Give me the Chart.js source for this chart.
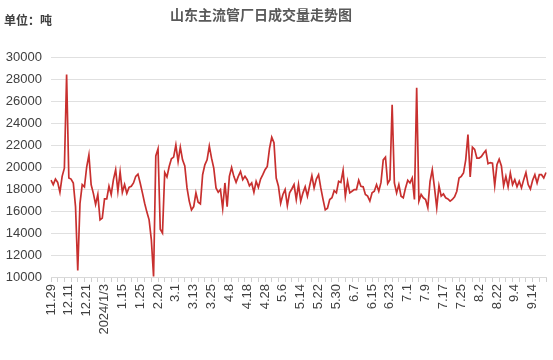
<!DOCTYPE html>
<html>
<head>
<meta charset="utf-8">
<script src="https://cdn.jsdelivr.net/npm/chart.js@4.4.1/dist/chart.umd.min.js"></script>
<style>
    html, body { margin: 0; padding: 0; background: #fff; }
    #wrap { width: 553px; height: 360px; }
</style>
</head>
<body>
<div id="wrap"><canvas id="myChart"></canvas></div>
<script>
/******* data *********/
const titleText = "山东主流管厂日成交量走势图";
const unitText = "单位：吨";
// one label every 8 trading days
const tickLabels = ["11.29", "12.11", "12.21", "2024/1/3", "1.15", "1.25", "2.20", "3.1", "3.13", "3.25",
    "4.8", "4.18", "4.28", "5.6", "5.14", "5.22", "5.30", "6.7", "6.15", "6.23",
    "7.1", "7.9", "7.17", "7.25", "8.2", "8.22", "9.4", "9.14"];
const volume = [
    18800, 18400, 18900, 18600, 17700, 19150, 19900, 28400, 19000, 18900,
    18550, 16400, 10600, 16700, 18400, 18200, 20000, 21100, 18400, 17600,
    16600, 17500, 15200, 15350, 17100, 17100, 18250, 17500, 18850, 19750,
    17800, 19550, 17700, 18400, 17600, 18150, 18250, 18550, 19150, 19350,
    18550, 17650, 16700, 15900,
    15200, 13400, 10050, 21000, 21650, 14350, 14000, 19500, 19100, 20050,
    20750, 20900, 22000, 20500, 21800, 20650, 20100, 18100, 16900, 16100,
    16400, 17650, 16800, 16650, 19300, 20200, 20650, 21900, 20800, 19900,
    18100, 17700, 17950, 16250, 18550, 16400, 19150, 19950, 19150, 18600,
    19150, 19600, 18850, 19150,
    18850, 18300, 18550, 17700, 18700, 18150, 18900, 19300, 19750, 20050,
    21700, 22700, 22200, 19000, 18250, 16700, 17500, 17950, 16500, 17650,
    18000, 18400, 17050, 18400, 16900, 17650, 18200, 17350, 18300, 19200,
    18100, 18900, 19300, 18100, 17050, 16100, 16250, 17050, 17200, 17850,
    17650, 18700, 18600, 19700, 17350,
    18700, 17650, 17800, 17950, 17950, 18800, 18250, 18200, 17500, 17350,
    16900, 17650, 17800, 18400, 17800, 18600, 20650, 20900, 18500, 18850,
    25650, 18550, 17650, 18400, 17350, 17200, 18100, 18800, 18550, 19000,
    17050, 27200, 16900, 17500, 17200, 17050, 16300, 18700, 19750, 18100,
    16300, 18300, 17350, 17550, 17200,
    17100, 16900, 17050, 17300, 17800, 19000, 19150, 19450, 20650, 22950,
    19100, 21800, 21600, 20800, 20800, 20950, 21250, 21500, 20300, 20400,
    20350, 18300, 20200, 20700, 20100, 18300, 19150, 18200, 19450, 18400,
    18850, 18200, 18700, 18100, 18850, 19500, 18400, 18000, 18800, 19300,
    18550, 19300, 19300, 19000, 19500
];
const categories = volume.map((v, i) => i);
const labelEvery = 8;

/******* title + unit text *******/
const headerPlugin = {
    id: "header",
    afterDraw: (chart) => {
        const c = chart.ctx;
        c.save();
        c.textBaseline = "middle";
        c.fillStyle = "#595959";
        c.font = "bold 14px 'Noto Sans CJK SC'";
        c.textAlign = "center";
        c.fillText(titleText, 261, 15);
        c.fillStyle = "#404040";
        c.font = "bold 12px 'Noto Sans CJK SC'";
        c.textAlign = "left";
        c.fillText(unitText, 4, 20);
        c.restore();
    }
};

/******* chart *******/
const ctx = document.getElementById("myChart").getContext("2d");
const myChart = new Chart(ctx, {
    type: "line",
    data: {
        labels: categories,
        datasets: [{
            data: volume,
            borderColor: "#C8302F",
            borderWidth: 1.7,
            pointRadius: 0,
            tension: 0,
            fill: false
        }]
    },
    options: {
        responsive: true,
        maintainAspectRatio: false,
        animation: false,
        layout: { padding: { top: 57, right: 7, left: 0, bottom: 0 } },
        plugins: {
            legend: { display: false },
            tooltip: { enabled: false }
        },
        scales: {
            x: {
                afterFit: (axis) => {
                    axis.height = 83;
                    // keep rotated labels from shrinking the plot
                    axis.paddingLeft = 0;
                    axis.paddingRight = 0;
                },
                grid: {
                    drawOnChartArea: false,
                    drawTicks: true,
                    tickLength: 5,
                    tickColor: (c) => c.index % 3 === 0 ? "#d0d0d0" : "rgba(0,0,0,0)"
                },
                border: { display: true, color: "#d9d9d9" },
                ticks: {
                    autoSkip: false,
                    minRotation: 90,
                    maxRotation: 90,
                    padding: 2,
                    color: "#404040",
                    font: { family: "'Liberation Sans'", size: 13 },
                    callback: (val, i) => i % labelEvery === 0 ? (tickLabels[i / labelEvery] || "") : ""
                }
            },
            y: {
                min: 10000,
                max: 30000,
                afterFit: (axis) => { axis.width = 51; },
                grid: { color: "#e0e0e0", drawTicks: false },
                border: { display: false },
                ticks: {
                    stepSize: 2000,
                    padding: 9,
                    color: "#404040",
                    font: { family: "'Liberation Sans'", size: 13 },
                    callback: (v) => v
                }
            }
        }
    },
    plugins: [headerPlugin]
});
</script>
</body>
</html>
